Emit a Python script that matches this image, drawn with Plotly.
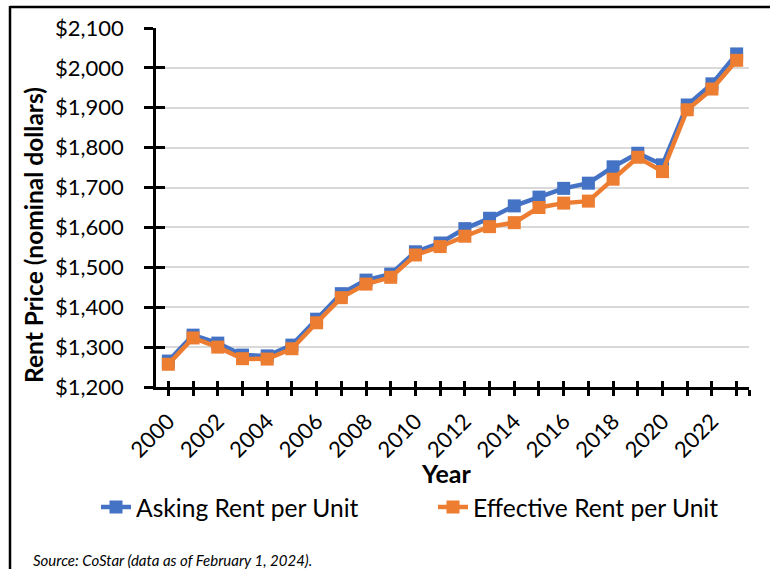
import plotly.graph_objects as go

years = list(range(2000, 2024))
asking_rent = [1265, 1330, 1310, 1280, 1278, 1305, 1370, 1434, 1468, 1483, 1539, 1561,
               1597, 1623, 1654, 1676, 1698, 1711, 1752, 1786, 1757, 1907, 1960, 2035]
effective_rent = [1257, 1323, 1300, 1271, 1270, 1296, 1361, 1424, 1458, 1475, 1531, 1552,
                  1578, 1602, 1612, 1650, 1661, 1666, 1721, 1776, 1740, 1895, 1947, 2019]
series_names = ["Asking Rent per Unit", "Effective Rent per Unit"]
x_tick_vals = years + [2023.5]
x_tick_text = [str(y) if y % 2 == 0 else "" for y in years] + [""]
y_tick_vals = list(range(1200, 2101, 100))

FONT = "Lato, 'Open Sans', sans-serif"
BLUE = "#4472C4"
ORANGE = "#ED7D31"

# plot-area geometry in px
W, H = 770, 569
L, R, T, B = 156, 21, 28, 182
pw, ph = W - L - R, H - T - B


def px_x(p):
    return (p - L) / pw


def px_y(p):
    return (H - B - p) / ph


fig = go.Figure()
fig.add_trace(go.Scatter(x=years, y=asking_rent, name=series_names[0], mode="lines+markers",
                         line=dict(color=BLUE, width=4.5),
                         marker=dict(symbol="square", size=13, color=BLUE)))
fig.add_trace(go.Scatter(x=years, y=effective_rent, name=series_names[1], mode="lines+markers",
                         line=dict(color=ORANGE, width=4.5),
                         marker=dict(symbol="square", size=13, color=ORANGE)))
# empty helper trace so the overlay axes (inner half of crossing ticks) are drawn
fig.add_trace(go.Scatter(x=[None], y=[None], xaxis="x2", yaxis="y2", showlegend=False,
                         hoverinfo="skip", mode="lines"))

axis_font = dict(family=FONT, size=22, color="black")
fig.update_layout(
    width=W, height=H,
    margin=dict(l=L, r=R, t=T, b=B, pad=0),
    paper_bgcolor="white", plot_bgcolor="white",
    font=dict(family=FONT, color="black"),
    xaxis=dict(range=[1999.5, 2023.5], tickmode="array", tickvals=x_tick_vals, ticktext=x_tick_text,
               tickangle=-45, ticks="outside", ticklen=6, tickwidth=2.5, tickcolor="black",
               showline=True, linecolor="black", linewidth=2.5, showgrid=False, zeroline=False,
               tickfont=axis_font, ticklabelstandoff=4),
    xaxis2=dict(range=[1999.5, 2023.5], overlaying="x", anchor="y", side="bottom",
                tickmode="array", tickvals=x_tick_vals, ticks="inside", ticklen=6, tickwidth=2.5,
                tickcolor="black", showticklabels=False, showgrid=False, zeroline=False, showline=False),
    yaxis=dict(range=[1200, 2100], tickmode="array", tickvals=y_tick_vals, tickformat="$,.0f",
               ticks="outside", ticklen=9, tickwidth=2.5, tickcolor="black",
               showline=True, linecolor="black", linewidth=2.5,
               showgrid=True, gridcolor="#d9d9d9", gridwidth=1.5, zeroline=False,
               tickfont=axis_font, ticklabelstandoff=16),
    yaxis2=dict(range=[1200, 2100], overlaying="y", anchor="x", side="left",
                tickmode="array", tickvals=y_tick_vals, ticks="inside", ticklen=9, tickwidth=2.5,
                tickcolor="black", showticklabels=False, showgrid=False, zeroline=False, showline=False),
    showlegend=True,
    legend=dict(orientation="h", x=px_x(110), y=px_y(507), xanchor="left", yanchor="middle",
                font=dict(family=FONT, size=24.6, color="black"), bgcolor="rgba(0,0,0,0)",
                entrywidth=292, itemwidth=30),
    annotations=[
        dict(text="<b>Rent Price (nominal dollars)</b>", xref="paper", yref="paper",
             x=px_x(34), y=px_y(235), xanchor="center", yanchor="middle", textangle=-90,
             showarrow=False, font=dict(family=FONT, size=24.5, color="black")),
        dict(text="<b>Year</b>", xref="paper", yref="paper", x=px_x(445.5), y=px_y(473),
             xanchor="center", yanchor="middle", showarrow=False,
             font=dict(family=FONT, size=25, color="black")),
        dict(text="<i>Source: CoStar (data as of February 1, 2024).</i>", xref="paper", yref="paper",
             x=px_x(31), y=px_y(560), xanchor="left", yanchor="middle", showarrow=False,
             font=dict(family=FONT, size=15, color="black")),
    ],
    shapes=[
        dict(type="line", xref="paper", yref="paper", x0=px_x(10), x1=px_x(775), y0=px_y(7), y1=px_y(7),
             line=dict(color="black", width=2.5)),
        dict(type="line", xref="paper", yref="paper", x0=px_x(10), x1=px_x(10), y0=px_y(6), y1=px_y(575),
             line=dict(color="black", width=2.5)),
    ],
)

fig.write_html("out.html", config={"displayModeBar": False},
               post_script="document.body.style.margin='0';document.body.style.overflow='hidden';")
